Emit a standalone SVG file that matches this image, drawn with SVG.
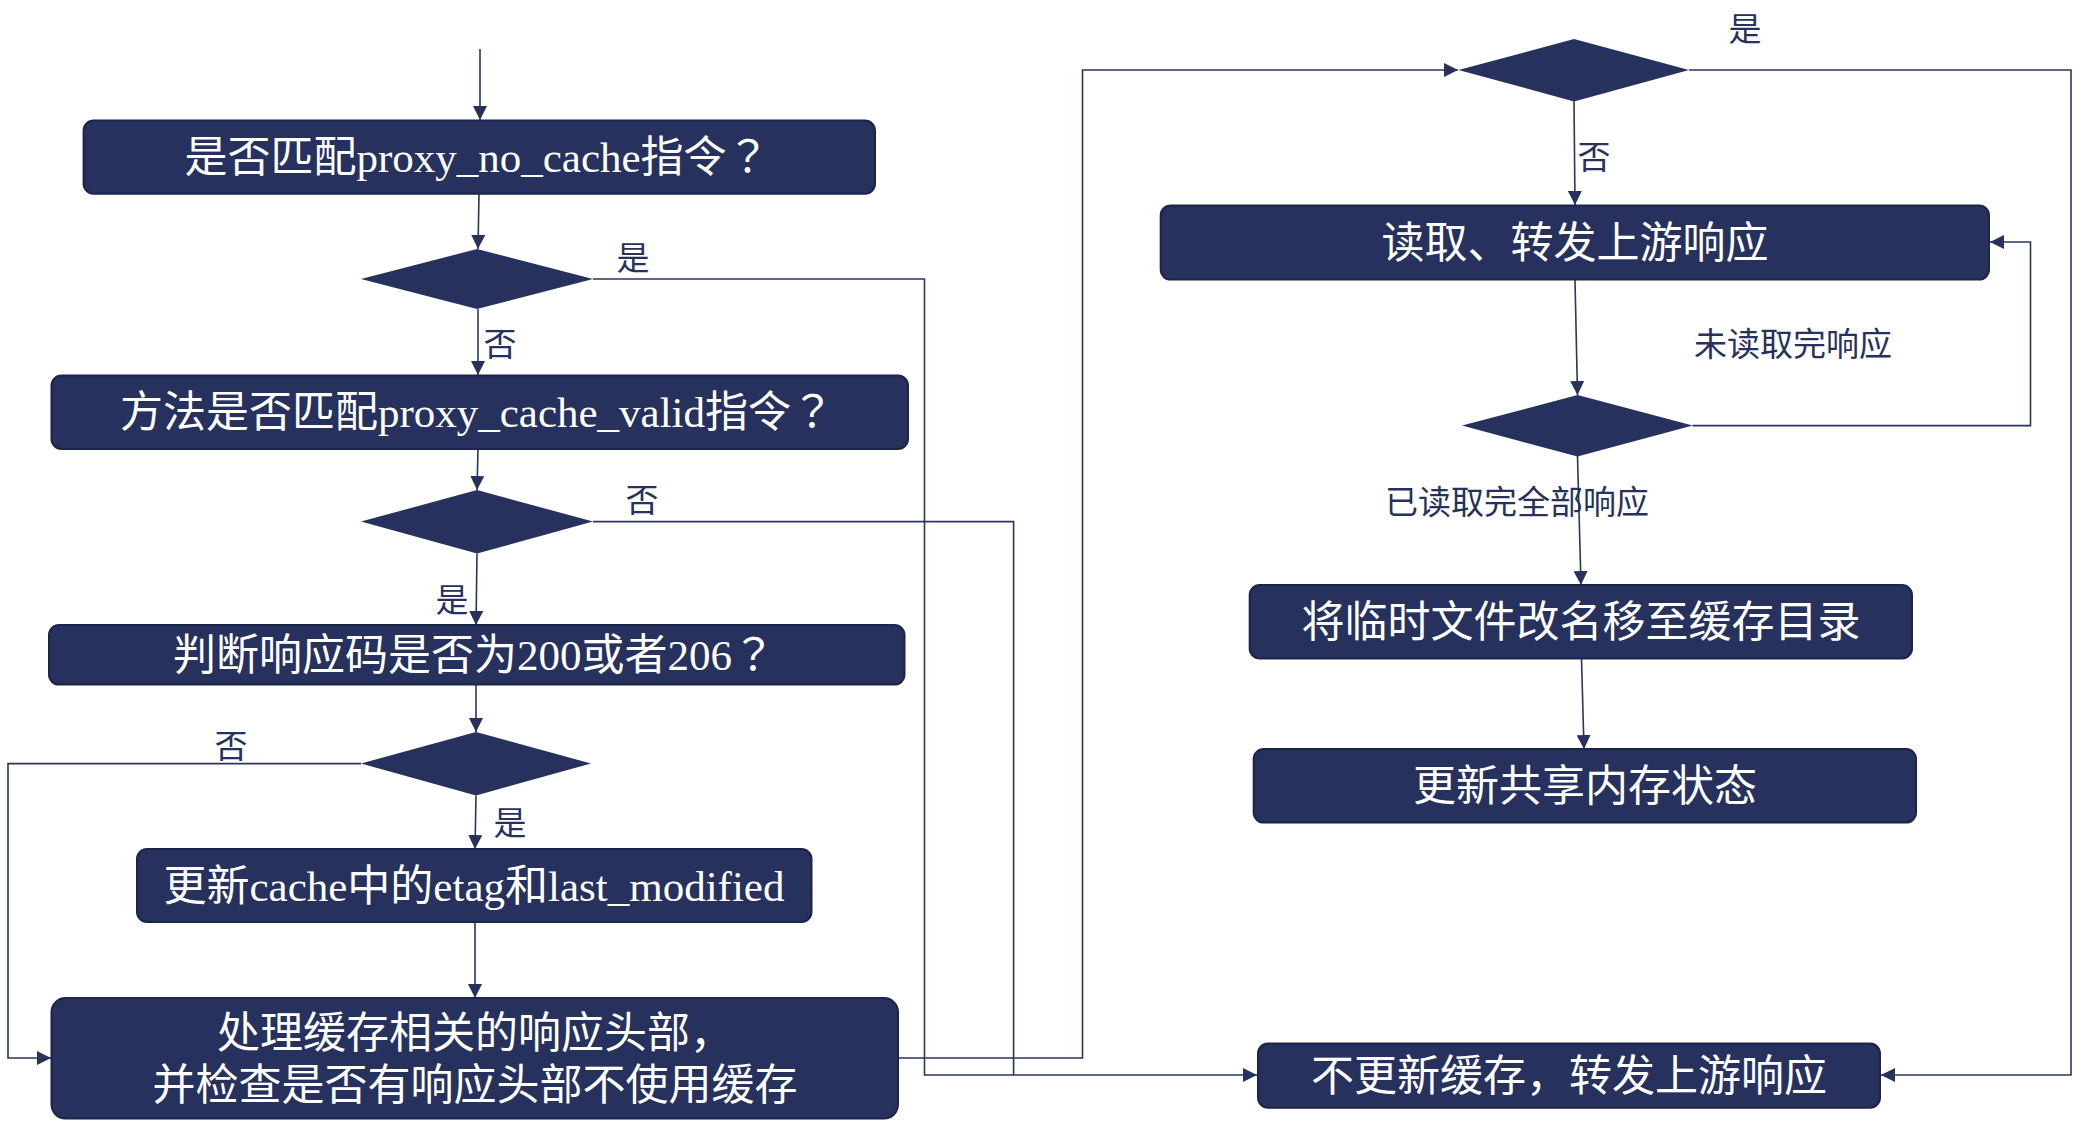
<svg xmlns="http://www.w3.org/2000/svg" width="2098" height="1136" viewBox="0 0 2098 1136">
<defs>
<style>
.box{fill:#26315e;stroke:#1c2448;stroke-width:2}
.dia{fill:#26315e;stroke:none}
.bt{font-family:"Liberation Serif","Noto Sans CJK SC",serif;font-size:43px;fill:#ffffff;text-anchor:middle}
.pu{font-family:"Noto Sans CJK TC",sans-serif}
.pk{font-family:"Noto Sans CJK KR",sans-serif}
.lb{font-family:"Noto Sans CJK SC",sans-serif;font-size:33px;fill:#26315e;text-anchor:middle}
.cn{fill:none;stroke:#2b3562;stroke-width:1.6}
.ar{marker-end:url(#arr)}
</style>
<marker id="arr" markerUnits="userSpaceOnUse" markerWidth="14" markerHeight="14" refX="14" refY="7" orient="auto">
<path d="M0,0 L14,7 L0,14 z" fill="#26315e"/>
</marker>
</defs>
<rect width="2098" height="1136" fill="#ffffff"/>
<g id="connectors">
<path class="cn ar" d="M480,49 L480,120"/>
<path class="cn ar" d="M479,194 L478,249"/>
<path class="cn ar" d="M478,309 L478,375"/>
<path class="cn ar" d="M593,279 L924.5,279 L924.5,1075 L1257,1075"/>
<path class="cn ar" d="M478,449 L477,490"/>
<path class="cn" d="M593,521.6 L1013.6,521.6 L1013.6,1075"/>
<path class="cn ar" d="M477,553.5 L476,625"/>
<path class="cn ar" d="M476,685 L476,732"/>
<path class="cn ar" d="M361,763.6 L8,763.6 L8,1058 L51,1058"/>
<path class="cn ar" d="M476,795.5 L475,849"/>
<path class="cn ar" d="M475,922 L475,998"/>
<path class="cn ar" d="M898,1058 L1082.5,1058 L1082.5,70 L1458,70"/>
<path class="cn ar" d="M1574,101 L1575,205"/>
<path class="cn ar" d="M1689,70 L2071,70 L2071,1075 L1881,1075"/>
<path class="cn ar" d="M1575,280 L1577.5,395"/>
<path class="cn ar" d="M1692.6,425.6 L2030.5,425.6 L2030.5,242 L1990,242"/>
<path class="cn ar" d="M1577.5,456 L1581,585"/>
<path class="cn ar" d="M1581.5,658.5 L1584,749"/>
</g>
<g id="n1"><rect class="box" x="83.6" y="120.6" width="791.4" height="73.2" rx="10"/><text class="bt" x="477" y="172">是否匹配proxy_no_cache指令<tspan class="pu">？</tspan></text></g>
<g id="d1"><polygon class="dia" points="361,279 477,249 593,279 477,309"/><text class="lb" x="633" y="270">是</text><text class="lb" x="500" y="356">否</text></g>
<g id="n2"><rect class="box" x="51.5" y="375.6" width="856.5" height="73.4" rx="10"/><text class="bt" x="477" y="427">方法是否匹配proxy_cache_valid指令<tspan class="pu">？</tspan></text></g>
<g id="d2"><polygon class="dia" points="361,521.6 477,490 593,521.6 477,553.5"/><text class="lb" x="642" y="512">否</text><text class="lb" x="452" y="612">是</text></g>
<g id="n3"><rect class="box" x="49" y="625" width="855.5" height="59.6" rx="10"/><text class="bt" x="474" y="670">判断响应码是否为200或者206<tspan class="pu">？</tspan></text></g>
<g id="d3"><polygon class="dia" points="361,763.6 476,732 591,763.6 476,795.5"/><text class="lb" x="231" y="758">否</text><text class="lb" x="510" y="835">是</text></g>
<g id="n4"><rect class="box" x="137" y="849" width="674.5" height="73" rx="10"/><text class="bt" x="474" y="901">更新cache中的etag和last_modified</text></g>
<g id="n5"><rect class="box" x="51.5" y="998" width="846.5" height="120.6" rx="14"/><text class="bt" x="475" y="1048">处理缓存相关的响应头部<tspan class="pk">，</tspan></text><text class="bt" x="475" y="1100">并检查是否有响应头部不使用缓存</text></g>
<g id="d4"><polygon class="dia" points="1458.5,70 1574,39 1689,70 1574,101.4"/><text class="lb" x="1745" y="41">是</text><text class="lb" x="1594" y="169">否</text></g>
<g id="n6"><rect class="box" x="1160.7" y="205.4" width="828.3" height="74.2" rx="10"/><text class="bt" x="1575" y="258">读取、转发上游响应</text></g>
<g id="d5"><polygon class="dia" points="1462,425.6 1577.5,395 1692.6,425.6 1577.5,456.4"/><text class="lb" x="1793" y="356">未读取完响应</text><text class="lb" x="1517" y="514">已读取完全部响应</text></g>
<g id="n8"><rect class="box" x="1249.7" y="585" width="662.3" height="73.5" rx="10"/><text class="bt" x="1581" y="637">将临时文件改名移至缓存目录</text></g>
<g id="n9"><rect class="box" x="1253.7" y="749" width="662.3" height="73.6" rx="10"/><text class="bt" x="1585" y="801">更新共享内存状态</text></g>
<g id="n7"><rect class="box" x="1258" y="1043.6" width="622" height="64.1" rx="10"/><text class="bt" x="1569" y="1091">不更新缓存<tspan class="pk">，</tspan>转发上游响应</text></g>
</svg>
